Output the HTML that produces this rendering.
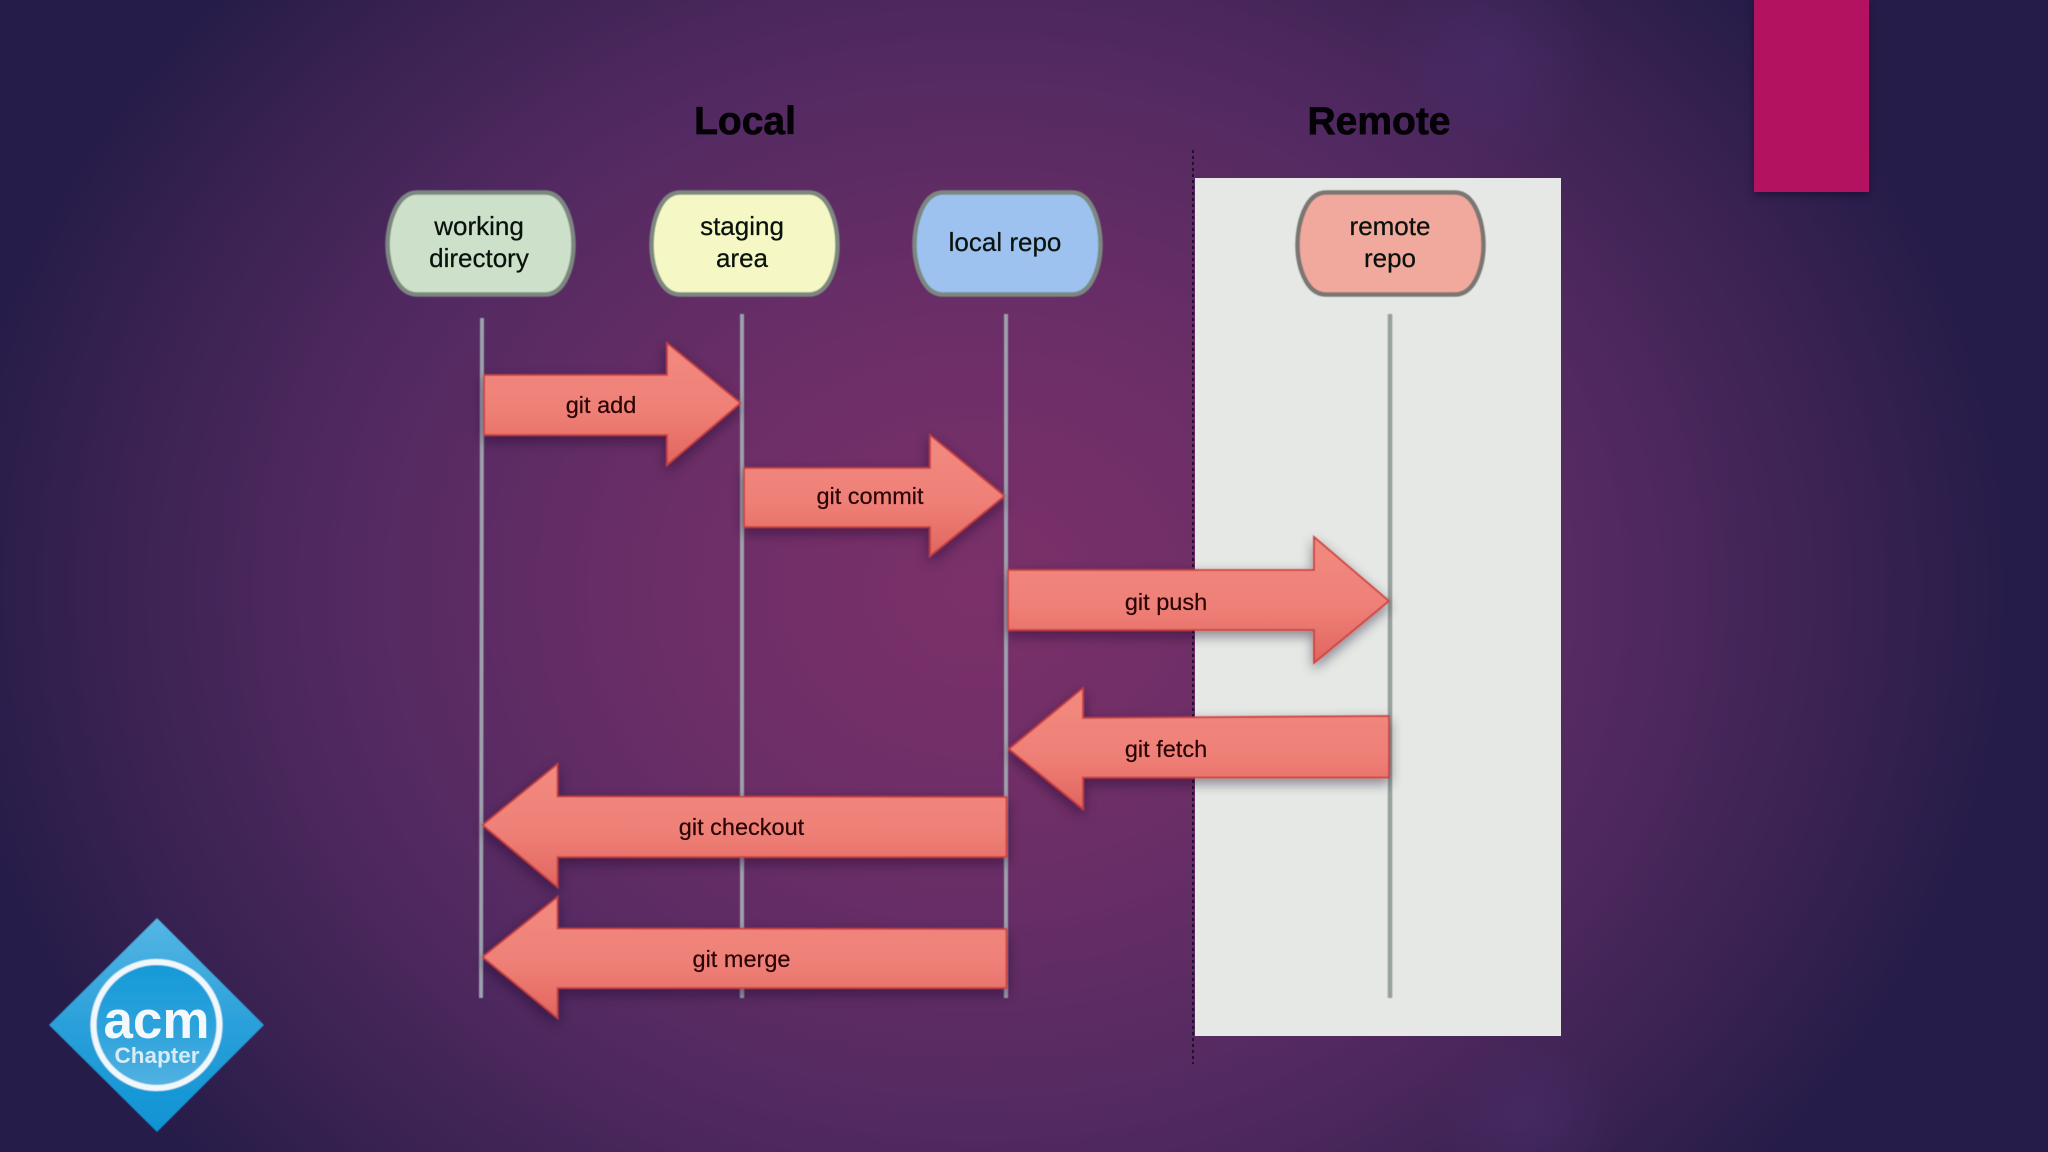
<!DOCTYPE html>
<html>
<head>
<meta charset="utf-8">
<style>
html,body{margin:0;padding:0;width:2048px;height:1152px;overflow:hidden;background:#2a1e4e}
svg{display:block;position:absolute;left:0;top:0}
text{font-family:"Liberation Sans",sans-serif}
</style>
</head>
<body>
<svg width="2048" height="1152" viewBox="0 0 2048 1152" xmlns="http://www.w3.org/2000/svg">
<defs>
<radialGradient id="bg" gradientUnits="userSpaceOnUse" cx="0" cy="0" r="1" gradientTransform="translate(980 590) scale(1030 880)">
<stop offset="0" stop-color="#7b3069"/>
<stop offset="0.3" stop-color="#6c2e67"/>
<stop offset="0.62" stop-color="#522961"/>
<stop offset="0.85" stop-color="#392252"/>
<stop offset="1" stop-color="#261c49"/>
</radialGradient>
<radialGradient id="blob"><stop offset="0" stop-color="#5a3a8a" stop-opacity=".22"/><stop offset="1" stop-color="#5a3a8a" stop-opacity="0"/></radialGradient>
<linearGradient id="ar" x1="0" y1="0" x2="0" y2="1"><stop offset="0" stop-color="#f28a80"/><stop offset="0.55" stop-color="#ef8077"/><stop offset="1" stop-color="#e0665f"/></linearGradient>
<linearGradient id="dia" x1="0" y1="0" x2="0" y2="1"><stop offset="0" stop-color="#55b6e4"/><stop offset="0.5" stop-color="#2aa0da"/><stop offset="1" stop-color="#0f93d4"/></linearGradient>
<linearGradient id="cir" x1="0" y1="0" x2="0" y2="1"><stop offset="0" stop-color="#149ad8"/><stop offset="0.55" stop-color="#2ea3dc"/><stop offset="1" stop-color="#55b2e2"/></linearGradient>
<filter id="sh" x="-10%" y="-20%" width="120%" height="150%"><feDropShadow dx="0" dy="5" stdDeviation="6" flood-color="#1a0a20" flood-opacity=".45"/></filter>
<filter id="soft"><feGaussianBlur stdDeviation="0.5"/></filter>
</defs>

<rect width="2048" height="1152" fill="url(#bg)"/>
<ellipse cx="1490" cy="60" rx="110" ry="110" fill="url(#blob)"/>
<ellipse cx="1530" cy="1120" rx="90" ry="80" fill="url(#blob)"/>

<!-- pink tab -->
<rect x="1754" y="0" width="115" height="192" fill="#b2125f" style="filter:drop-shadow(0 3px 4px rgba(15,10,40,.6))"/>

<!-- panel -->
<rect x="1195" y="178" width="366" height="858" fill="#e6e8e5"/>
<line x1="1193" y1="150" x2="1193" y2="1064" stroke="#150a20" stroke-width="1.6" stroke-dasharray="3 3"/>

<g filter="url(#soft)">
<!-- lifelines -->
<g stroke-width="4" fill="none">
<line x1="482" y1="318" x2="481" y2="998" stroke="#9da1ad"/>
<line x1="742" y1="314" x2="742" y2="998" stroke="#9da1ad"/>
<line x1="1006" y1="314" x2="1006" y2="998" stroke="#9da1ad"/>
<line x1="1390" y1="314" x2="1390" y2="998" stroke="#96a09c" stroke-width="4.5"/>
</g>

<!-- nodes -->
<g stroke-width="4.5" stroke="#7c8780">
<path d="M417 192.500H545C566 192.500 573.500 225 573.500 244.500C573.500 264 566 294.500 545 294.500H417C396 294.500 387.500 264 387.500 244.500C387.500 225 396 192.500 417 192.500Z" fill="#cde0c9"/>
<path d="M680 192.500H809C830 192.500 837.500 225 837.500 244.500C837.500 264 830 294.500 809 294.500H680C659 294.500 651.500 264 651.500 244.500C651.500 225 659 192.500 680 192.500Z" fill="#f5f8c4"/>
<path d="M943 192.500H1072C1093 192.500 1100.500 225 1100.500 244.500C1100.500 264 1093 294.500 1072 294.500H943C922 294.500 914.500 264 914.500 244.500C914.500 225 922 192.500 943 192.500Z" fill="#9dc2ef"/>
<path d="M1326 192.500H1455C1476 192.500 1483.500 225 1483.500 244.500C1483.500 264 1476 294.500 1455 294.500H1326C1305 294.500 1297.500 264 1297.500 244.500C1297.500 225 1305 192.500 1326 192.500Z" fill="#f1a99d" stroke="#7a7672"/>
</g>

<!-- arrows -->
<g fill="url(#ar)" stroke="#c9403f" stroke-width="1.8" stroke-linejoin="miter" filter="url(#sh)">
<path d="M484 375H667V343L740.500 403L667 465V435H484Z"/>
<path d="M744 468H930V435L1004.500 496L930 556V527H744Z"/>
<path d="M1008 570H1314V537L1389 601L1314 663V630H1008Z"/>
<path d="M1389 716V777.500H1083V809L1009 749L1083 688V718Z"/>
<path d="M1006.500 797V857H557.500V887L482.500 825L557.500 764V796.500Z"/>
<path d="M1006.500 929V988H557.500V1018L482.500 957L557.500 897V928.500Z"/>
</g>

<!-- logo -->
<path d="M157 918L264 1025L157 1132L49 1025Z" fill="url(#dia)"/>
<circle cx="156.500" cy="1025" r="63" fill="url(#cir)" stroke="#f0f8fc" stroke-width="6"/>
</g>

<!-- titles -->
<g stroke="#040206" stroke-width=".7" fill="#040206">
<text x="745" y="134" font-size="39" font-weight="700" text-anchor="middle">Local</text>
<text x="1379" y="134" font-size="39" font-weight="700" text-anchor="middle">Remote</text>
</g>
<g font-size="26" text-anchor="middle" fill="#0a120d" stroke="#0a120d" stroke-width=".25">
<text x="479" y="235">working</text>
<text x="479" y="267">directory</text>
<text x="742" y="235">staging</text>
<text x="742" y="267">area</text>
<text x="1005" y="251">local repo</text>
<text x="1390" y="235">remote</text>
<text x="1390" y="267">repo</text>
</g>
<g font-size="23.500" text-anchor="middle" fill="#2a0404" stroke="#2a0404" stroke-width=".2">
<text x="601" y="413">git add</text>
<text x="870" y="504">git commit</text>
<text x="1166" y="610">git push</text>
<text x="1166" y="757">git fetch</text>
<text x="741.500" y="835">git checkout</text>
<text x="741.500" y="967">git merge</text>
</g>
<text x="156.500" y="1038" font-size="53" font-weight="700" text-anchor="middle" fill="#f2f8fc">acm</text>
<text x="157" y="1063" font-size="22.500" font-weight="700" text-anchor="middle" fill="#d8ecf7">Chapter</text>
</svg>
</body>
</html>
